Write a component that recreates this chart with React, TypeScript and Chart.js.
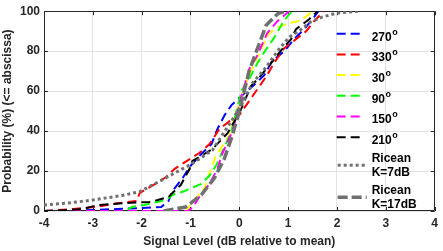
import React, { useEffect, useRef } from "react";
import { Chart, registerables } from "chart.js";

Chart.register(...registerables);

// ---- data ----
const seriesLabels = ["270", "330", "30", "90", "150", "210"];
const riceanLabels = [["Ricean", "K=7dB"], ["Ricean", "K=17dB"]];

const x270 = [-4, -3, -2.5, -2, -1.6, -1.45, -1.37, -1.16, -1.02, -0.8, -0.57, -0.45, -0.3, -0.16, 0.06, 0.3, 0.51, 0.67, 0.92, 1.12, 1.33, 1.53, 1.62];
const y270 = [0, 0.5, 1, 1.5, 2, 5, 10, 16.5, 22, 28, 33.5, 41, 48, 53, 58, 63, 68, 75, 80, 86, 91, 97, 100];

const x330 = [-4, -3.4, -2.96, -2.6, -2.3, -2.1, -2.04, -1.73, -1.5, -1.33, -1.08, -0.82, -0.61, -0.41, -0.2, 0, 0.2, 0.4, 0.57, 0.71, 0.92, 1.16, 1.37, 1.53, 1.73];
const y330 = [0, 1, 2, 3.5, 4.5, 5, 9, 13.5, 17, 21, 25, 29, 33.5, 41, 45, 48, 55, 62, 68, 74, 81.5, 86, 90, 95, 100];

const x30 = [-4, -1.1, -1.0, -0.71, -0.57, -0.47, -0.2, -0.06, 0.05, 0.2, 0.41, 0.61, 0.8, 1.02, 1.2, 1.35, 1.5];
const y30 = [0, 0, 3, 11.6, 22, 28, 38, 50, 58, 68, 79, 89, 92, 94, 95, 97, 100];

const x90 = [-4, -2.35, -2.2, -1.95, -1.7, -1.5, -1.37, -1.12, -0.78, -0.6, -0.47, -0.35, -0.16, 0.04, 0.2, 0.37, 0.55, 0.75, 0.88, 1.02, 1.1];
const y90 = [0, 0, 2, 3, 4.4, 5.5, 8, 10, 13.6, 18, 23, 29.6, 40, 60, 66, 74, 81, 88, 94, 98.5, 100];

const x150 = [-4, -1.05, -0.95, -0.82, -0.61, -0.45, -0.35, -0.14, 0.05, 0.2, 0.35, 0.57, 0.78, 1.02];
const y150 = [0, 0, 2, 7, 13.6, 21, 28.6, 40, 58, 71, 77, 89, 95, 100];

const x210 = [-4, -3.5, -3.2, -2.9, -2.3, -1.84, -1.67, -1.45, -1.37, -1.2, -1.02, -0.96, -0.55, -0.24, 0, 0.24, 0.45, 0.65, 0.86, 1.06, 1.16, 1.43, 1.6];
const y210 = [0, 0.5, 1, 3, 4, 4.5, 5.5, 7, 9, 13, 21, 25, 31, 39, 49, 62.5, 68, 74, 80.5, 86, 91, 96, 100];

const xK7 = [-4, -3.5, -3.06, -2.39, -2.04, -1.7, -1.37, -1.02, -0.82, -0.55, -0.27, 0, 0.27, 0.55, 0.78, 1.02, 1.22, 1.45, 1.69, 1.98, 2.45];
const yK7 = [3, 4, 5.3, 7.8, 9.7, 14, 18.4, 23, 26, 30.5, 41, 51, 64, 72, 80, 87, 90, 94.5, 97, 99, 100];

const xK17 = [-1.55, -1.1, -0.78, -0.51, -0.31, -0.14, 0, 0.2, 0.35, 0.55, 0.8, 0.95];
const yK17 = [0, 2, 8, 16.5, 26, 38, 50, 70, 80, 93, 99, 100];

const xTicks = [-4, -3, -2, -1, 0, 1, 2, 3, 4];
const yTicks = [0, 20, 40, 60, 80, 100];

const xTitle = "Signal Level (dB relative to mean)";
const yTitle = "Probability (%) (<= abscissa)";

// ---- styles ----
const FONT = "'Liberation Sans', Arial, Helvetica, sans-serif";
const AXIS_COLOR = "#262626";
const seriesColors = ["#0000ff", "#ff0000", "#ffff00", "#00ff00", "#ff00ff", "#000000"];
const GRAY = "#707070";
const DASH = [9, 5];
const DOT = [3, 3];
const DASH17 = [10, 4];

function pts(xs: number[], ys: number[]) {
  return xs.map((x, i) => ({ x, y: ys[i] }));
}

const boxPlugin = {
  id: "matlabBox",
  beforeDatasetsDraw(chart: any) {
    const { ctx, chartArea } = chart;
    const { left, right, top, bottom } = chartArea;
    const xs = chart.scales.x;
    const ys = chart.scales.y;
    ctx.save();
    ctx.strokeStyle = AXIS_COLOR;
    ctx.lineWidth = 1;
    ctx.setLineDash([]);
    ctx.beginPath();
    ctx.rect(Math.round(left) + 0.5, Math.round(top) + 0.5, Math.round(right - left) - 1, Math.round(bottom - top) - 1);
    const tl = 4;
    xTicks.forEach((v) => {
      const px = Math.round(xs.getPixelForValue(v)) + 0.5;
      ctx.moveTo(px, bottom);
      ctx.lineTo(px, bottom - tl);
      ctx.moveTo(px, top);
      ctx.lineTo(px, top + tl);
    });
    yTicks.forEach((v) => {
      const py = Math.round(ys.getPixelForValue(v)) + 0.5;
      ctx.moveTo(left, py);
      ctx.lineTo(left + tl, py);
      ctx.moveTo(right, py);
      ctx.lineTo(right - tl, py);
    });
    ctx.stroke();
    ctx.restore();
  },
};

const legendPlugin = {
  id: "insideLegend",
  afterDraw(chart: any) {
    const { ctx, chartArea } = chart;
    const { right, top } = chartArea;
    const x0 = right - 98;
    const lineLen = 25;
    const textX = right - 63;
    ctx.save();
    ctx.fillStyle = "#000000";
    ctx.textAlign = "left";
    ctx.textBaseline = "middle";
    const rowStep = 20.7;
    seriesLabels.forEach((lab, i) => {
      const ly = top + 22.5 + i * rowStep;
      ctx.strokeStyle = seriesColors[i];
      ctx.lineWidth = 2;
      ctx.setLineDash(DASH);
      ctx.beginPath();
      ctx.moveTo(x0, ly);
      ctx.lineTo(x0 + lineLen, ly);
      ctx.stroke();
      ctx.setLineDash([]);
      ctx.font = `bold 12px ${FONT}`;
      const ty = ly + 3.5;
      ctx.fillText(lab, textX, ty);
      const w = ctx.measureText(lab).width;
      ctx.font = `bold 9px ${FONT}`;
      ctx.fillText("o", textX + w + 0.5, ty - 5);
    });
    const riceanStyles = [
      { dash: DOT, width: 3, ly: top + 154, len: 29 },
      { dash: DASH17, width: 3.5, ly: top + 186, len: 29 },
    ];
    riceanLabels.forEach((lines, i) => {
      const s = riceanStyles[i];
      ctx.strokeStyle = GRAY;
      ctx.lineWidth = s.width;
      ctx.setLineDash(s.dash);
      ctx.beginPath();
      ctx.moveTo(x0 + 1, s.ly);
      ctx.lineTo(x0 + 1 + s.len, s.ly);
      ctx.stroke();
      ctx.setLineDash([]);
      ctx.font = `bold 12px ${FONT}`;
      ctx.fillText(lines[0], textX, s.ly - 7);
      ctx.fillText(lines[1], textX, s.ly + 7.5);
    });
    ctx.restore();
  },
};

export default function App() {
  const ref = useRef<HTMLCanvasElement | null>(null);

  useEffect(() => {
    document.body.style.margin = "0";
    const canvas = ref.current;
    if (!canvas) return;
    const measured = [
      [x270, y270],
      [x330, y330],
      [x30, y30],
      [x90, y90],
      [x150, y150],
      [x210, y210],
    ];
    const datasets: any[] = measured.map(([xs, ys], i) => ({
      label: seriesLabels[i],
      data: pts(xs, ys),
      borderColor: seriesColors[i],
      borderWidth: 2,
      borderDash: DASH,
      pointRadius: 0,
      showLine: true,
      fill: false,
      tension: 0,
      order: 10 - i,
    }));
    datasets.push({
      label: riceanLabels[0].join(" "),
      data: pts(xK7, yK7),
      borderColor: GRAY,
      borderWidth: 3,
      borderDash: DOT,
      pointRadius: 0,
      showLine: true,
      fill: false,
      tension: 0,
      order: 2,
    });
    datasets.push({
      label: riceanLabels[1].join(" "),
      data: pts(xK17, yK17),
      borderColor: GRAY,
      borderWidth: 3.5,
      borderDash: DASH17,
      pointRadius: 0,
      showLine: true,
      fill: false,
      tension: 0,
      order: 1,
    });

    const tickFont = { family: FONT, size: 12, weight: "bold" as const };
    const chart = new Chart(canvas, {
      type: "scatter",
      data: { datasets },
      options: {
        animation: false,
        responsive: true,
        maintainAspectRatio: false,
        layout: { padding: { left: 0, right: 7, top: 5, bottom: 0 } },
        plugins: {
          legend: { display: false },
          tooltip: { enabled: false },
        },
        scales: {
          x: {
            type: "linear",
            min: -4,
            max: 4,
            afterBuildTicks: (scale: any) => {
              scale.ticks = xTicks.map((v) => ({ value: v }));
            },
            afterFit: (scale: any) => {
              scale.height = 40;
            },
            ticks: {
              color: AXIS_COLOR,
              font: tickFont,
              padding: 5,
              maxRotation: 0,
              autoSkip: false,
              callback: (v: any) => String(v),
            },
            grid: { color: "#e3e3e3", lineWidth: 1, drawTicks: false },
            border: { display: false },
            title: {
              display: true,
              text: xTitle,
              color: AXIS_COLOR,
              font: tickFont,
              padding: { top: 0, bottom: 2 },
            },
          },
          y: {
            type: "linear",
            min: 0,
            max: 100,
            afterBuildTicks: (scale: any) => {
              scale.ticks = yTicks.map((v) => ({ value: v }));
            },
            afterFit: (scale: any) => {
              scale.width = 44;
            },
            ticks: {
              color: AXIS_COLOR,
              font: tickFont,
              padding: 4,
              autoSkip: false,
              callback: (v: any) => String(v),
            },
            grid: { color: "#e3e3e3", lineWidth: 1, drawTicks: false },
            border: { display: false },
            title: {
              display: true,
              text: yTitle,
              color: AXIS_COLOR,
              font: tickFont,
              padding: { top: 0, bottom: 2 },
            },
          },
        },
      },
      plugins: [boxPlugin, legendPlugin],
    } as any);
    return () => chart.destroy();
  }, []);

  return (
    <div style={{ position: "absolute", left: 0, top: 0, width: 443, height: 251 }}>
      <canvas ref={ref} />
    </div>
  );
}
